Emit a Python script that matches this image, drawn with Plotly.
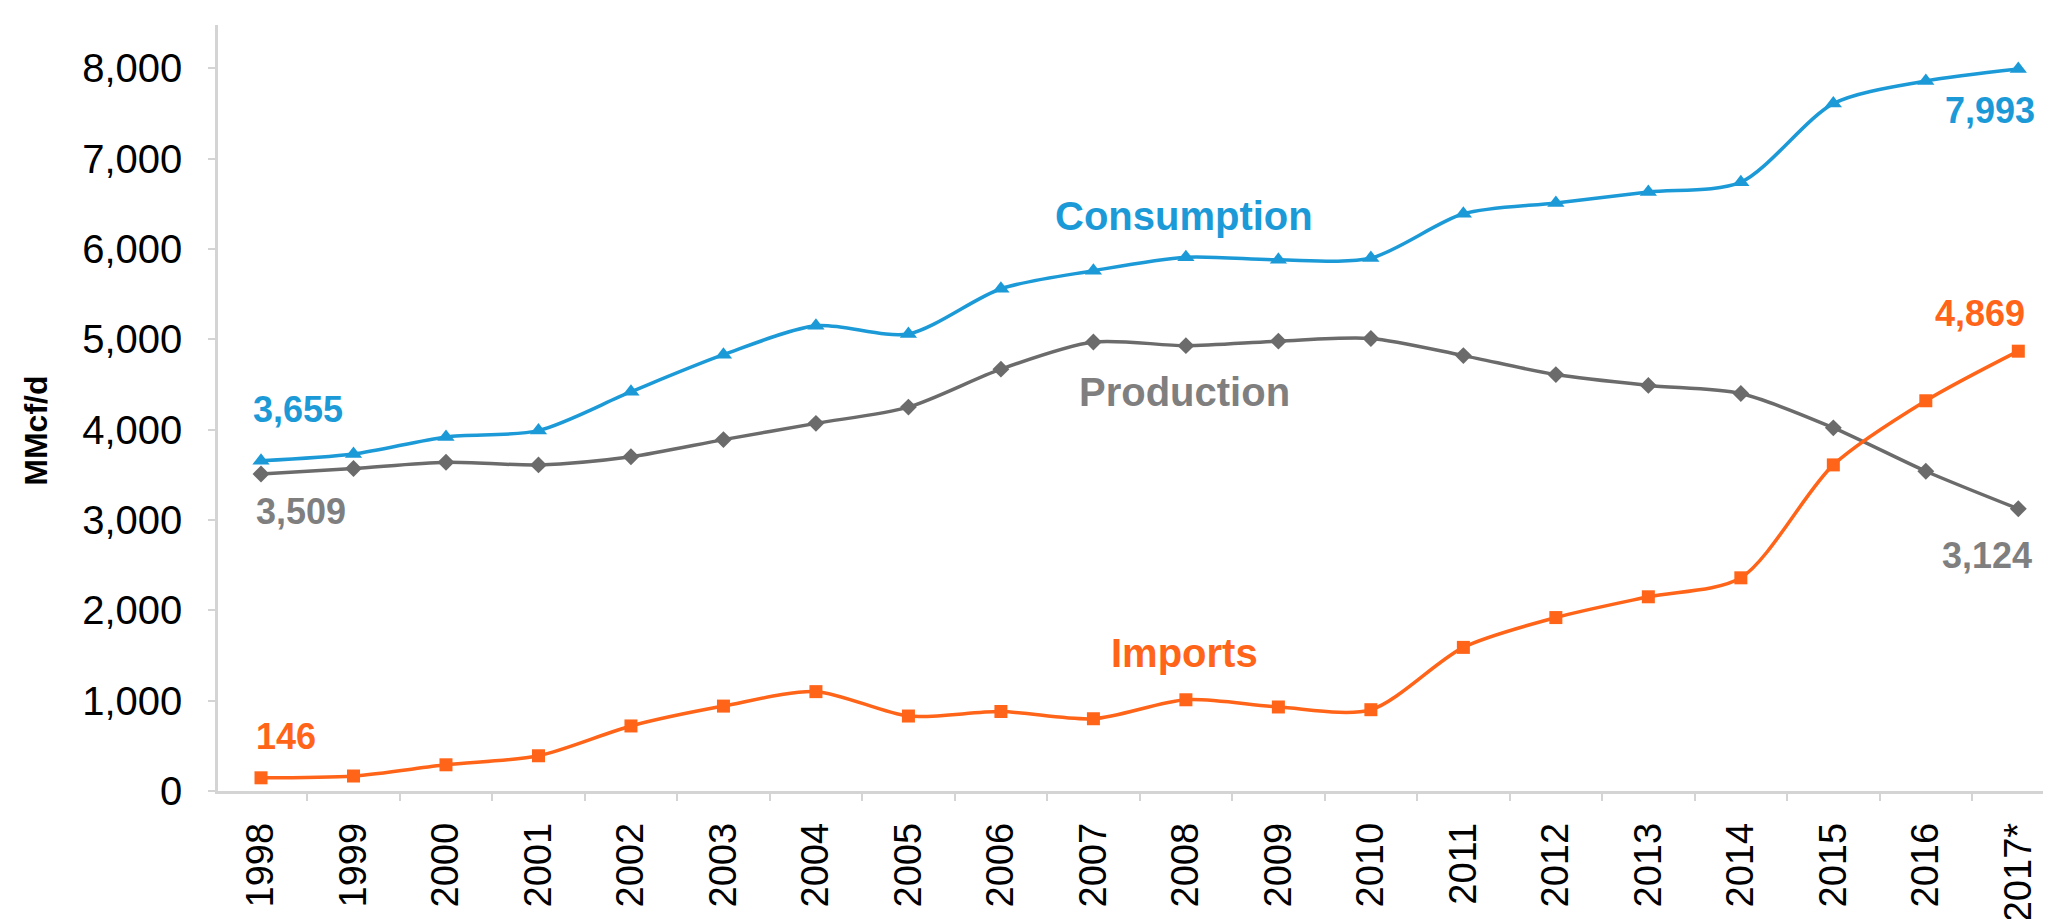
import plotly.graph_objects as go

years = ["1998", "1999", "2000", "2001", "2002", "2003", "2004", "2005", "2006", "2007",
         "2008", "2009", "2010", "2011", "2012", "2013", "2014", "2015", "2016", "2017*"]
consumption = [3655, 3730, 3920, 3990, 4420, 4830, 5150, 5060, 5560, 5760,
               5910, 5880, 5900, 6390, 6510, 6630, 6740, 7610, 7860, 7993]
production = [3509, 3570, 3640, 3610, 3700, 3890, 4070, 4250, 4670, 4970,
              4930, 4980, 5010, 4820, 4610, 4490, 4400, 4020, 3540, 3124]
imports = [146, 166, 290, 390, 720, 940, 1100, 830, 880, 800,
           1010, 930, 900, 1590, 1920, 2150, 2360, 3610, 4320, 4869]
y_ticks = [0, 1000, 2000, 3000, 4000, 5000, 6000, 7000, 8000]

BLUE = "#1b9ad7"
GRAY_LINE = "#6b6b6b"
GRAY_TEXT = "#7f7f7f"
ORANGE = "#ff6418"
AXIS = "#d4d4d4"
FONT = "Liberation Sans, Arial, sans-serif"

fig = go.Figure()
fig.add_trace(go.Scatter(x=years, y=consumption, mode="lines+markers", name="Consumption",
                         line=dict(color=BLUE, width=3.5, shape="spline", smoothing=0.8),
                         marker=dict(symbol="triangle-up", size=15, color=BLUE)))
fig.add_trace(go.Scatter(x=years, y=production, mode="lines+markers", name="Production",
                         line=dict(color=GRAY_LINE, width=3.5, shape="spline", smoothing=0.8),
                         marker=dict(symbol="diamond", size=13, color=GRAY_LINE)))
fig.add_trace(go.Scatter(x=years, y=imports, mode="lines+markers", name="Imports",
                         line=dict(color=ORANGE, width=3.5, shape="spline", smoothing=0.8),
                         marker=dict(symbol="square", size=13, color=ORANGE)))

def ann(x, y, text, color, size):
    fig.add_annotation(x=x, y=y, xref="x", yref="y", text=f"<b>{text}</b>", showarrow=False,
                       font=dict(family=FONT, size=size, color=color),
                       xanchor="center", yanchor="middle")

ann(9.98, 6370, "Consumption", BLUE, 40)
ann(9.99, 4420, "Production", GRAY_TEXT, 40)
ann(9.98, 1530, "Imports", ORANGE, 40)
ann(0.40, 4220, f"{consumption[0]:,}", BLUE, 36)
ann(0.43, 3090, f"{production[0]:,}", GRAY_TEXT, 36)
ann(0.27, 600, f"{imports[0]:,}", ORANGE, 36)
ann(18.69, 7530, f"{consumption[-1]:,}", BLUE, 36)
ann(18.59, 5290, f"{imports[-1]:,}", ORANGE, 36)
ann(18.66, 2610, f"{production[-1]:,}", GRAY_TEXT, 36)

fig.add_annotation(x=-0.099, y=0.47, xref="paper", yref="paper", text="<b>MMcf/d</b>",
                   textangle=-90, showarrow=False,
                   font=dict(family=FONT, size=32, color="black"),
                   xanchor="center", yanchor="middle")

fig.update_layout(
    width=2051, height=919,
    margin=dict(l=210, r=0, t=17, b=136),
    paper_bgcolor="white", plot_bgcolor="white",
    showlegend=False,
    font=dict(family=FONT, color="black"),
)
fig.update_xaxes(type="category", categoryorder="array", categoryarray=years,
                 range=[-0.465, 19.44], tickson="boundaries", ticks="outside",
                 ticklen=7, tickwidth=2, tickcolor=AXIS, tickangle=-90,
                 showline=True, linecolor=AXIS, linewidth=2.5, showgrid=False,
                 tickfont=dict(family=FONT, size=38, color="black"),
                 ticklabelstandoff=14, automargin=False)
fig.update_yaxes(range=[0, 8480], tickvals=y_ticks, tickformat=",", ticks="outside",
                 ticklen=7, tickwidth=2, tickcolor=AXIS,
                 showline=True, linecolor=AXIS, linewidth=2.5, showgrid=False, zeroline=False,
                 tickfont=dict(family=FONT, size=40, color="black"),
                 ticklabelstandoff=18, automargin=False)

fig.write_html("out.html")
